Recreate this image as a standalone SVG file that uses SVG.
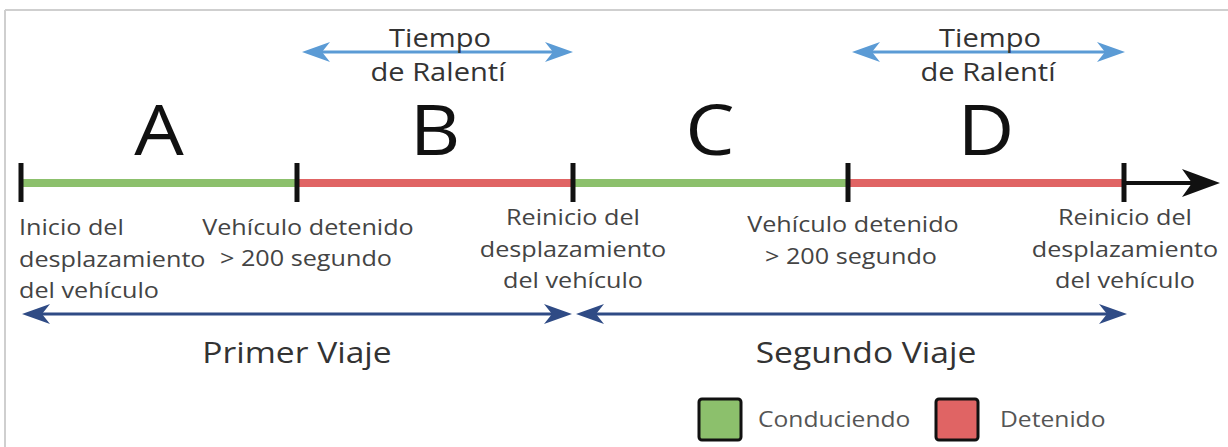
<svg xmlns="http://www.w3.org/2000/svg" width="1228" height="447" viewBox="0 0 1228 447">
<style>
  text { font-family: "Open Sans", "Noto Sans", "DejaVu Sans", sans-serif; }
  .big { font-size: 70px; fill: #111; text-anchor: middle; }
  .idle { font-size: 26px; fill: #333; text-anchor: middle; }
  .lbl { font-size: 22.5px; fill: #444; }
  .mid { text-anchor: middle; }
  .trip { font-size: 30px; fill: #333; text-anchor: middle; }
  .leg { font-size: 22px; fill: #555; }
  .tick { stroke: #111; stroke-width: 5; }
  .seg { stroke-width: 8; fill: none; }
  .drive { stroke: #8cc06c; }
  .stop { stroke: #e06464; }
  .idlearrow { stroke: #5b9bd5; stroke-width: 3; fill: none; }
  .triparrow { stroke: #2f4b85; stroke-width: 3; fill: none; }
  .box { stroke: #111; stroke-width: 3; }
</style>
<defs>
  <marker id="ahLight" viewBox="0 0 28 20" refX="22" refY="10" markerWidth="28" markerHeight="20" markerUnits="userSpaceOnUse" orient="auto-start-reverse">
    <path d="M0,0 L28,10 L0,20 L8,10 Z" fill="#5b9bd5"/>
  </marker>
  <marker id="ahDark" viewBox="0 0 28 20" refX="22" refY="10" markerWidth="28" markerHeight="20" markerUnits="userSpaceOnUse" orient="auto-start-reverse">
    <path d="M0,0 L28,10 L0,20 L8,10 Z" fill="#2f4b85"/>
  </marker>
  <marker id="ahBlack" viewBox="0 0 38 28" refX="30" refY="14" markerWidth="38" markerHeight="28" markerUnits="userSpaceOnUse" orient="auto">
    <path d="M0,0 L38,14 L0,28 L10,14 Z" fill="#111"/>
  </marker>
</defs>

<g id="frame">
  <line x1="5" y1="10" x2="1228" y2="10" stroke="#cfcfcf" stroke-width="2"/>
  <line x1="5" y1="10" x2="5" y2="447" stroke="#cfcfcf" stroke-width="2"/>
</g>

<g id="connectors">
  <line class="seg drive" x1="21" y1="183" x2="297" y2="183"/>
  <line class="seg stop" x1="297" y1="183" x2="573" y2="183"/>
  <line class="seg drive" x1="573" y1="183" x2="848" y2="183"/>
  <line class="seg stop" x1="848" y1="183" x2="1124" y2="183"/>
  <line x1="1124" y1="183" x2="1212" y2="183" stroke="#111" stroke-width="4" marker-end="url(#ahBlack)"/>
  <line class="tick" x1="21" y1="163" x2="21" y2="202"/>
  <line class="tick" x1="297" y1="163" x2="297" y2="202"/>
  <line class="tick" x1="573" y1="163" x2="573" y2="202"/>
  <line class="tick" x1="848" y1="163" x2="848" y2="202"/>
  <line class="tick" x1="1124" y1="163" x2="1124" y2="202"/>
  <line class="idlearrow" x1="308" y1="52" x2="567" y2="52" marker-start="url(#ahLight)" marker-end="url(#ahLight)"/>
  <line class="idlearrow" x1="858" y1="52" x2="1119" y2="52" marker-start="url(#ahLight)" marker-end="url(#ahLight)"/>
  <line class="triparrow" x1="28" y1="314" x2="566" y2="314" marker-start="url(#ahDark)" marker-end="url(#ahDark)"/>
  <line class="triparrow" x1="582" y1="314" x2="1121" y2="314" marker-start="url(#ahDark)" marker-end="url(#ahDark)"/>
</g>

<g id="phase-A"><text class="big" transform="translate(159,155) scale(1.12,1)">A</text></g>
<g id="phase-B"><text class="big" transform="translate(435,155) scale(1.12,1)">B</text></g>
<g id="phase-C"><text class="big" transform="translate(710,155) scale(1.12,1)">C</text></g>
<g id="phase-D"><text class="big" transform="translate(986,155) scale(1.12,1)">D</text></g>

<g id="idle-1">
  <text class="idle" transform="translate(440,47) scale(1.12,1)">Tiempo</text>
  <text class="idle" transform="translate(438,81) scale(1.12,1)">de Ralentí</text>
</g>
<g id="idle-2">
  <text class="idle" transform="translate(990,47) scale(1.12,1)">Tiempo</text>
  <text class="idle" transform="translate(988,81) scale(1.12,1)">de Ralentí</text>
</g>

<g id="event-start">
  <text class="lbl" transform="translate(19,235) scale(1.12,1)">Inicio del</text>
  <text class="lbl" transform="translate(19,267) scale(1.12,1)">desplazamiento</text>
  <text class="lbl" transform="translate(19,298) scale(1.12,1)">del vehículo</text>
</g>
<g id="event-stop-1">
  <text class="lbl mid" transform="translate(308,235) scale(1.12,1)">Vehículo detenido</text>
  <text class="lbl mid" transform="translate(306,266) scale(1.12,1)">&gt; 200 segundo</text>
</g>
<g id="event-restart-1">
  <text class="lbl mid" transform="translate(573,225) scale(1.12,1)">Reinicio del</text>
  <text class="lbl mid" transform="translate(573,257) scale(1.12,1)">desplazamiento</text>
  <text class="lbl mid" transform="translate(573,288) scale(1.12,1)">del vehículo</text>
</g>
<g id="event-stop-2">
  <text class="lbl mid" transform="translate(853,232) scale(1.12,1)">Vehículo detenido</text>
  <text class="lbl mid" transform="translate(851,264) scale(1.12,1)">&gt; 200 segundo</text>
</g>
<g id="event-restart-2">
  <text class="lbl mid" transform="translate(1125,225) scale(1.12,1)">Reinicio del</text>
  <text class="lbl mid" transform="translate(1125,257) scale(1.12,1)">desplazamiento</text>
  <text class="lbl mid" transform="translate(1125,288) scale(1.12,1)">del vehículo</text>
</g>

<g id="trip-1"><text class="trip" transform="translate(297,363) scale(1.12,1)">Primer Viaje</text></g>
<g id="trip-2"><text class="trip" transform="translate(866,363) scale(1.12,1)">Segundo Viaje</text></g>

<g id="legend-driving">
  <rect class="box" x="699" y="399" width="42" height="41" rx="3" fill="#8cc06c"/>
  <text class="leg" transform="translate(758,427) scale(1.12,1)">Conduciendo</text>
</g>
<g id="legend-stopped">
  <rect class="box" x="936" y="399" width="42" height="41" rx="3" fill="#e06464"/>
  <text class="leg" transform="translate(1000,427) scale(1.12,1)">Detenido</text>
</g>
</svg>
